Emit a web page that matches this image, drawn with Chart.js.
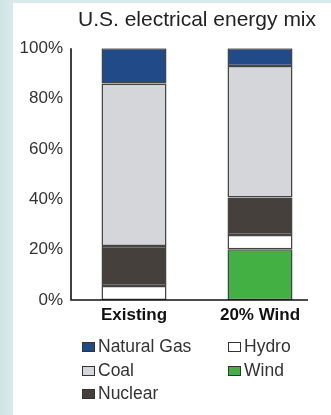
<!DOCTYPE html>
<html>
<head>
<meta charset="utf-8">
<script src="https://cdn.jsdelivr.net/npm/chart.js@4"></script>
<style>
  html, body { margin: 0; padding: 0; }
  body { width: 331px; height: 415px; position: relative; overflow: hidden;
         background: linear-gradient(90deg, #cfe4e6 0px, #d9eaec 13px); font-family: Arial, "Liberation Sans", sans-serif; }
  #panel { position: absolute; left: 13px; top: 3px; right: 0; bottom: 0; background: #ffffff; }
  #wrap { position: absolute; left: 0; top: 0; width: 331px; height: 340px; }
  #legend { position: absolute; left: 0; top: 335px; width: 331px; height: 80px; color: #333; font-size: 17.5px; }
  .item { position: absolute; height: 22px; line-height: 22px; white-space: nowrap; }
  .box { position: absolute; left: 0; top: 7px; width: 11px; height: 8px; border: 1.5px solid #333; }
  .lbl { position: absolute; left: 16px; top: 0; }
</style>
</head>
<body>
<div id="panel"></div>
<div id="wrap"><canvas id="c" width="331" height="340"></canvas></div>
<div id="legend"></div>
<script>
const categories = ["Existing", "20% Wind"];
const seriesNames = ["Wind", "Hydro", "Nuclear", "Coal", "Natural Gas"];
const wind = [0, 20.2];
const hydro = [5.6, 5.6];
const nuclear = [15.8, 14.9];
const coal = [64.6, 52.2];
const naturalGas = [14.0, 7.1];
const yTicks = [0, 20, 40, 60, 80, 100];
const colors = ["#43b043", "#ffffff", "#46403c", "#d4d6da", "#214a88"];
const legendOrder = [["Natural Gas", "Coal", "Nuclear"], ["Hydro", "Wind"]];

const values = [wind, hydro, nuclear, coal, naturalGas];
const datasets = seriesNames.map((n, i) => ({
  label: n,
  data: values[i],
  backgroundColor: colors[i],
  borderColor: "#454545",
  borderWidth: 1.5,
  borderSkipped: false,
  categoryPercentage: 1,
  barPercentage: 0.516
}));

const axisLines = {
  id: "axisLines",
  afterDraw(chart) {
    const ctx = chart.ctx, a = chart.chartArea;
    ctx.save();
    ctx.strokeStyle = "#111";
    ctx.lineWidth = 1.6;
    ctx.beginPath();
    ctx.moveTo(a.left, a.top);
    ctx.lineTo(a.left, a.bottom);
    ctx.lineTo(a.right - 15, a.bottom);
    ctx.stroke();
    ctx.restore();
  }
};

new Chart(document.getElementById("c"), {
  type: "bar",
  data: { labels: categories, datasets },
  plugins: [axisLines],
  options: {
    responsive: false,
    animation: false,
    layout: { padding: { left: 0, right: 8, top: 0, bottom: 0 } },
    plugins: {
      legend: { display: false },
      tooltip: { enabled: false },
      title: {
        display: true,
        fullSize: false,
        text: "U.S. electrical energy mix",
        color: "#222",
        font: { family: "Arial, 'Liberation Sans', sans-serif", size: 21, weight: "normal" },
        padding: { top: 8, bottom: 15 },
        position: "top"
      }
    },
    scales: {
      x: {
        stacked: true,
        grid: { display: false, drawTicks: false },
        border: { display: false },
        ticks: { color: "#111", padding: 5, font: { family: "Arial, 'Liberation Sans', sans-serif", size: 17, weight: "bold" } },
        afterFit(s) { s.height = 40; }
      },
      y: {
        stacked: true,
        min: 0, max: 100,
        afterBuildTicks(s) { s.ticks = yTicks.map(v => ({ value: v })); },
        grid: { display: false, drawTicks: false },
        border: { display: false },
        ticks: { color: "#333", padding: 8, callback: v => v + "%", font: { family: "Arial, 'Liberation Sans', sans-serif", size: 17 } },
        afterFit(s) { s.width = 71; }
      }
    }
  }
});

const legend = document.getElementById("legend");
const colLeft = [82, 228];
const rowTop = [0, 24, 47];
legendOrder.forEach((col, ci) => {
  col.forEach((name, ri) => {
    const idx = seriesNames.indexOf(name);
    const it = document.createElement("div");
    it.className = "item";
    it.style.left = colLeft[ci] + "px";
    it.style.top = rowTop[ri] + "px";
    const b = document.createElement("div");
    b.className = "box";
    b.style.background = colors[idx];
    const l = document.createElement("span");
    l.className = "lbl";
    l.textContent = name;
    it.appendChild(b); it.appendChild(l);
    legend.appendChild(it);
  });
});
</script>
</body>
</html>
